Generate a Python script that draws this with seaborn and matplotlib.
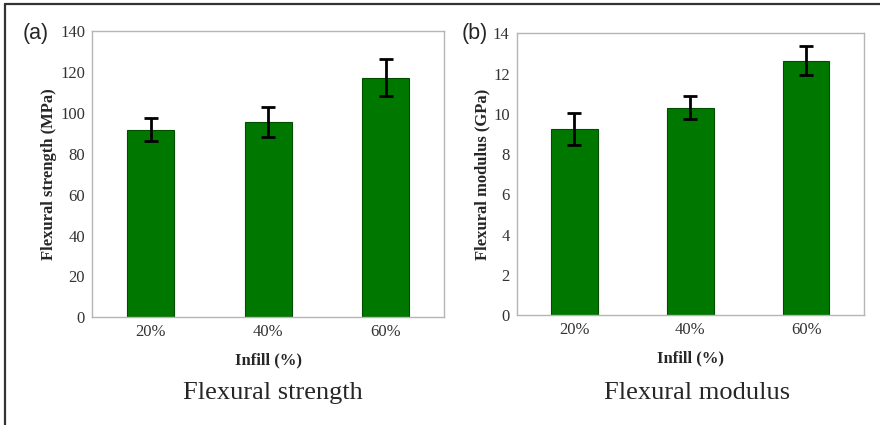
import numpy as np
import pandas as pd
import matplotlib.pyplot as plt
import seaborn as sns

infill = ['20%', '40%', '60%']
strength = [91.8, 95.5, 117.2]
strength_err = [5.6, 7.2, 9.0]
modulus = [9.23, 10.3, 12.64]
modulus_err = [0.8, 0.56, 0.72]

sns.set_style('white')
plt.rcParams['font.family'] = ['Liberation Serif', 'DejaVu Serif']

fig = plt.figure(figsize=(8.8, 4.25), dpi=100)

panels = [
    dict(pos=[0.1045, 0.2534, 0.4006, 0.6736], vals=strength, err=strength_err,
         ylim=140, step=20, ylabel='Flexural strength (MPa)', tag='(a)',
         caption='Flexural strength', tag_x=0.040, cap_x=0.310),
    dict(pos=[0.587, 0.2588, 0.395, 0.6628], vals=modulus, err=modulus_err,
         ylim=14, step=2, ylabel='Flexural modulus (GPa)', tag='(b)',
         caption='Flexural modulus', tag_x=0.540, cap_x=0.792),
]

for p in panels:
    ax = fig.add_axes(p['pos'])
    df = pd.DataFrame({'Infill': infill, 'Value': p['vals']})
    sns.barplot(data=df, x='Infill', y='Value', color='#007800', saturation=1,
                width=0.4, edgecolor='#004d00', linewidth=0.8, ax=ax)
    ax.errorbar(np.arange(len(infill)), p['vals'], yerr=p['err'], fmt='none',
                ecolor='black', elinewidth=2.0, capsize=5, capthick=2.0)
    ax.set_xlim(-0.5, 2.5)
    ax.set_ylim(0, p['ylim'])
    ax.set_yticks(np.arange(0, p['ylim'] + 0.01, p['step']))
    ax.set_yticks(np.arange(p['step'] / 2, p['ylim'], p['step']), minor=True)
    ax.set_xticks([0.5, 1.5], minor=True)
    ax.tick_params(axis='both', which='major', direction='in', length=3,
                   width=0.6, color='#999999', labelsize=12,
                   labelcolor='#333333', pad=5)
    ax.tick_params(axis='both', which='minor', direction='in', length=2,
                   width=0.6, color='#999999')
    for s in ax.spines.values():
        s.set_color('#b5b5b5')
        s.set_linewidth(1.0)
    ax.set_ylabel(p['ylabel'], fontsize=12, fontweight='bold', labelpad=2)
    ax.set_xlabel('Infill (%)', fontsize=12, fontweight='bold', labelpad=9)
    fig.text(p['tag_x'], 0.922, p['tag'], fontsize=15.5, ha='center', va='center',
             family=['Liberation Sans', 'DejaVu Sans'])
    fig.text(p['cap_x'], 0.076, p['caption'], fontsize=19, ha='center',
             va='center')

# outer frame lines (top and left only)
fig.add_artist(plt.Line2D([0.0057, 1], [0.9906, 0.9906], color='#333333', lw=1.6))
fig.add_artist(plt.Line2D([0.0057, 0.0057], [0, 0.9906], color='#333333', lw=1.6))

fig.savefig('out.png', dpi=100)
